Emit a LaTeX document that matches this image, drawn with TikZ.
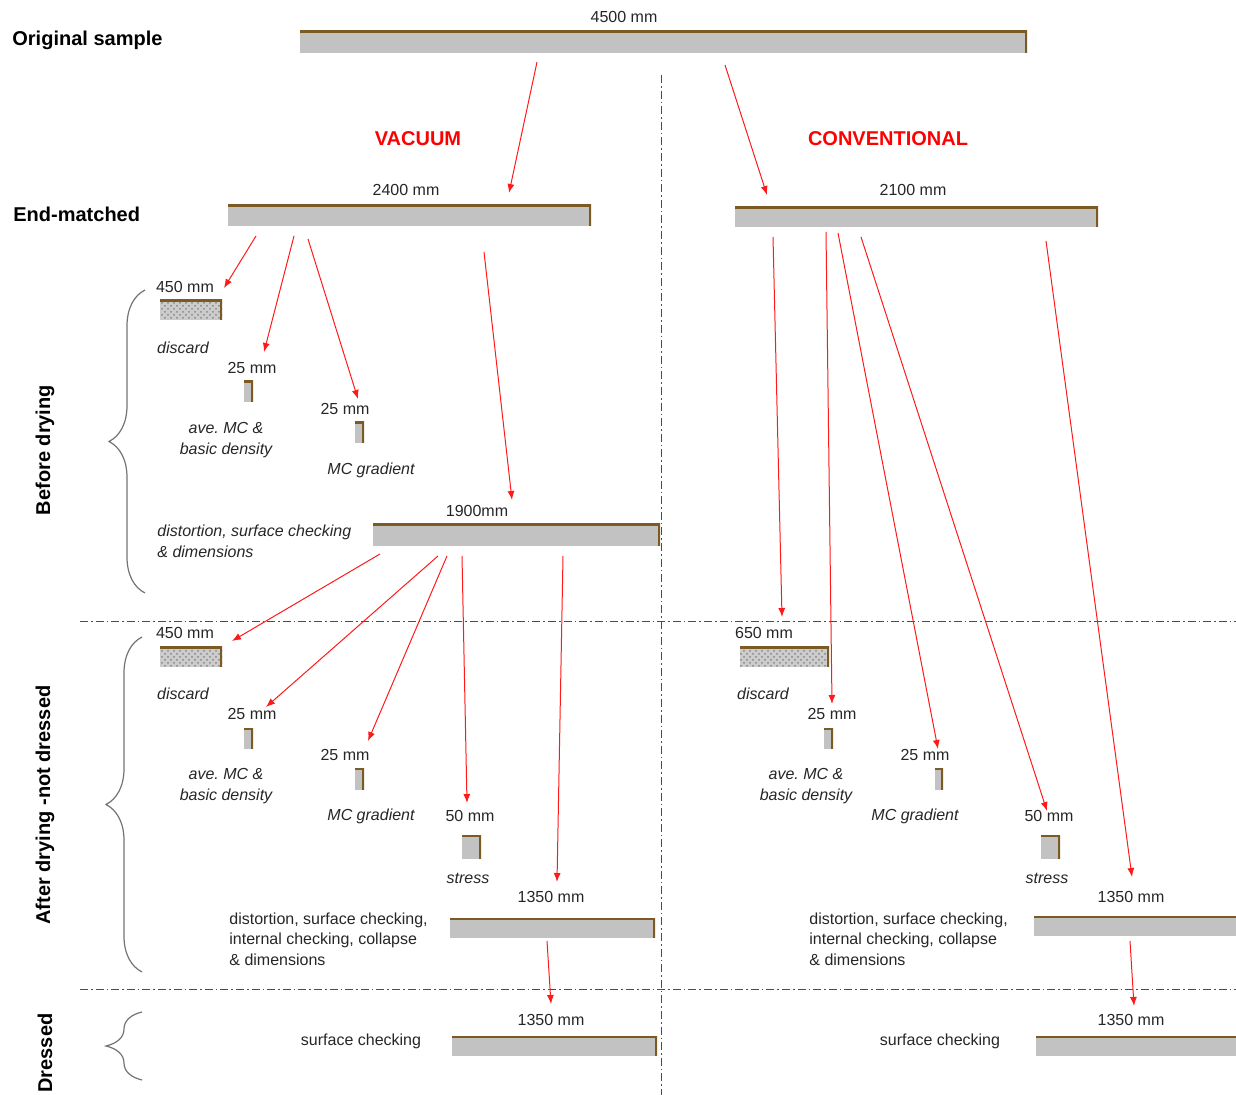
\documentclass[tikz,border=0pt]{standalone}
\usepackage{fontspec}
\setmainfont{Liberation Sans}
\usetikzlibrary{arrows.meta, calc, fit, patterns, decorations.pathreplacing}

\definecolor{plankgray}{HTML}{C2C2C2}
\definecolor{plankbrown}{HTML}{7B5A24}
\definecolor{cutred}{HTML}{FF1A1A}

% brown top and right edge of a board
\newcommand\plankedge{\draw[plankbrown, line width=2.4pt]
  (path picture bounding box.south east) -- (path picture bounding box.north east)
  -- (path picture bounding box.north west);}

\begin{document}
\begin{tikzpicture}[
  x=0.5pt, y=-0.5pt,
  >={Latex[length=4.5pt,width=3.5pt]},
  every node/.style={inner sep=0pt, font=\fontsize{8}{10}\selectfont\frenchspacing, text=black!85},
  plank/.style={fill=plankgray, inner sep=0pt, path picture={\plankedge}},
  waste/.style={fill=gray!40, inner sep=0pt, path picture={
      \fill[pattern=crosshatch dots, pattern color=gray!95]
        (path picture bounding box.south west) rectangle (path picture bounding box.north east);
      \plankedge}},
  head/.style={font=\bfseries\fontsize{10}{12}\selectfont, text=black},
  method/.style={font=\bfseries\fontsize{10}{12}\selectfont, text=red},
  stage/.style={font=\bfseries\fontsize{10}{12}\selectfont, text=black, rotate=90},
  note/.style={font=\itshape\fontsize{8}{10.5}\selectfont\frenchspacing, align=center},
  remark/.style={font=\fontsize{8}{10.25}\selectfont, align=left, anchor=west},
  cut/.style={->, cutred, line width=0.5pt},
  split/.style={black!70, line width=0.5pt, dash pattern=on 4pt off 1.5pt on 0.8pt off 1.5pt},
  group/.style={decorate, decoration={brace, amplitude=18pt}, black!55, line width=0.6pt}
]
  \useasboundingbox (0,0) rectangle (1236,1095);

  % dividing lines
  \draw[split] (661,75) -- (661,1095);
  \draw[split] (80,622) -- (1236,622);
  \draw[split] (80,989) -- (1236,989);

  % headings
  \node[head, anchor=west] (hOrig) at (12,40) {Original sample};
  \node[head, anchor=west] (hEnd) at (13,214) {End-matched};
  \node[method] (mVac) at (418,139) {VACUUM};
  \node[method] (mCon) at (888,139) {CONVENTIONAL};
  \node[stage] (sBefore) at (45,450) {Before drying};
  \node[stage] (sAfter) at (45,805) {After drying -not dressed};
  \node[stage] (sDressed) at (45,1053) {Dressed};
  \draw[group] (145,593) -- (145,290);
  \draw[group] (142,972) -- (142,637);
  \draw[group] (142,1080) -- (142,1012);

  % original and end-matched boards
  \node[plank, fit={(300,31) (1027,53)}] (orig) {};
  \node (lOrig) at (624,17) {4500 mm};
  \node[plank, fit={(228,205) (591,226)}] (vac) {};
  \node (lVac) at (406,190) {2400 mm};
  \node[plank, fit={(735,207) (1098,227)}] (con) {};
  \node (lCon) at (913,190) {2100 mm};

  % vacuum, before drying
  \node (lVa) at (185,287) {450 mm};
  \node[waste, fit={(160,300) (222,320)}] (va) {};
  \node[note] (nVa) at (183,348) {discard};
  \node (lVb) at (252,368) {25 mm};
  \node[plank, fit={(244,381) (253,402)}] (vb) {};
  \node[note] (nVb) at (226,440) {ave. MC \&\\basic density};
  \node (lVc) at (345,409) {25 mm};
  \node[plank, fit={(355,422) (364,443)}] (vc) {};
  \node[note] (nVc) at (371,470) {MC gradient};
  \node (lVd) at (477,511) {1900mm};
  \node[plank, fit={(373,524) (660,546)}] (vd) {};
  \node[note, align=left, anchor=west] (nVd) at (157,541) {distortion, surface checking\\\& dimensions};

  % vacuum, after drying
  \node (lVe) at (185,633) {450 mm};
  \node[waste, fit={(160,647) (222,667)}] (ve) {};
  \node[note] (nVe) at (183,694) {discard};
  \node (lVf) at (252,714) {25 mm};
  \node[plank, fit={(244,728) (253,749)}] (vf) {};
  \node[note] (nVf) at (226,786) {ave. MC \&\\basic density};
  \node (lVg) at (345,755) {25 mm};
  \node[plank, fit={(355,768) (364,790)}] (vg) {};
  \node[note] (nVg) at (371,816) {MC gradient};
  \node (lVh) at (470,816) {50 mm};
  \node[plank, fit={(462,835) (481,859)}] (vh) {};
  \node[note] (nVh) at (468,878) {stress};
  \node (lVi) at (551,897) {1350 mm};
  \node[plank, fit={(450,918) (655,938)}] (vi) {};
  \node[remark] (nVi) at (229,939) {distortion, surface checking,\\internal checking, collapse\\\& dimensions};

  % vacuum, dressed
  \node (lVj) at (551,1020) {1350 mm};
  \node[plank, fit={(452,1036) (657,1056)}] (vj) {};
  \node (nVj) at (361,1041) {surface checking};

  % conventional, after drying
  \node (lCa) at (764,633) {650 mm};
  \node[waste, fit={(740,647) (829,667)}] (ca) {};
  \node[note] (nCa) at (763,694) {discard};
  \node (lCb) at (832,714) {25 mm};
  \node[plank, fit={(824,728) (833,749)}] (cb) {};
  \node[note] (nCb) at (806,786) {ave. MC \&\\basic density};
  \node (lCc) at (925,755) {25 mm};
  \node[plank, fit={(935,768) (943,790)}] (cc) {};
  \node[note] (nCc) at (915,816) {MC gradient};
  \node (lCd) at (1049,816) {50 mm};
  \node[plank, fit={(1041,835) (1060,859)}] (cd) {};
  \node[note] (nCd) at (1047,878) {stress};
  \node (lCe) at (1131,897) {1350 mm};
  \node[plank, fit={(1034,916) (1242,936)}] (ce) {};
  \node[remark] (nCe) at (809,939) {distortion, surface checking,\\internal checking, collapse\\\& dimensions};

  % conventional, dressed
  \node (lCf) at (1131,1020) {1350 mm};
  \node[plank, fit={(1036,1036) (1242,1056)}] (cf) {};
  \node (nCf) at (940,1041) {surface checking};

  % cut lines: start and end points
  \foreach \n/\p in {s1/{537,62}, e1/{509,193}, s2/{725,65}, e2/{767,195},
      s3/{256,236}, e3/{224,288}, s4/{294,236}, e4/{264,352},
      s5/{308,239}, e5/{358,399}, s6/{484,252}, e6/{512,500},
      s7/{380,554}, e7/{232,641}, s8/{438,556}, e8/{266,707},
      s9/{447,556}, e9/{368,741}, s10/{462,556}, e10/{467,803},
      s11/{563,556}, e11/{557,882}, s12/{547,941}, e12/{551,1004},
      s13/{773,237}, e13/{782,617}, s14/{826,232}, e14/{832,704},
      s15/{838,233}, e15/{938,749}, s16/{861,237}, e16/{1047,811},
      s17/{1046,241}, e17/{1132,877}, s18/{1130,941}, e18/{1134,1006}}
    \coordinate (\n) at (\p);
  \foreach \i in {1,...,18}
    \draw[cut] (s\i) -- (e\i);
\end{tikzpicture}
\end{document}
